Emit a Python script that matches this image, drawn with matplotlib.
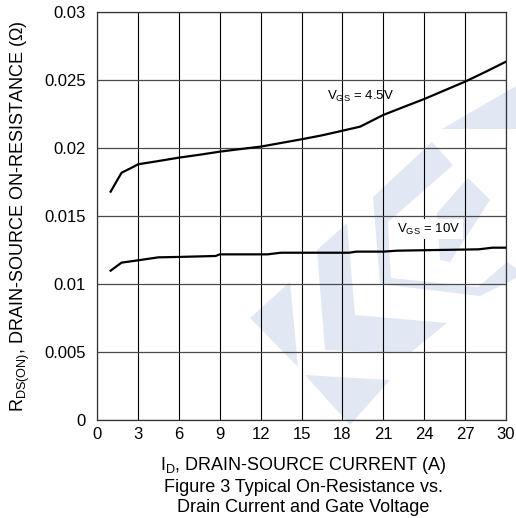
import matplotlib
matplotlib.use("Agg")
import matplotlib.pyplot as plt
from matplotlib.patches import Polygon

plt.rcParams['font.family'] = ['Liberation Sans', 'DejaVu Sans']
plt.rcParams['mathtext.default'] = 'regular'

# ---- data ----
id_vgs45 = [1.0, 1.8, 2.7, 3, 4.5, 6, 7.5, 9, 10.5, 12, 13.5, 15, 16.5, 18, 19.3,
            21, 22.5, 24, 25.5, 27, 28.5, 30]
r_vgs45 = [0.01679, 0.01818, 0.01863, 0.0188, 0.01904, 0.01929, 0.0195, 0.01973,
           0.01992, 0.0201, 0.02037, 0.02064, 0.02093, 0.02127, 0.02157,
           0.02243, 0.02302, 0.0236, 0.02424, 0.02488, 0.0256, 0.02635]

id_vgs10 = [1.0, 1.8, 3, 4.5, 6, 8.7, 9, 12.5, 13.5, 18.5, 19, 21, 22, 28, 29, 30]
r_vgs10 = [0.01098, 0.01157, 0.01174, 0.01196, 0.01199, 0.01206, 0.01218, 0.01218,
           0.0123, 0.0123, 0.01238, 0.01238, 0.01245, 0.01255, 0.01267, 0.01267]

x_ticks = [0, 3, 6, 9, 12, 15, 18, 21, 24, 27, 30]
y_ticks = [0, 0.005, 0.01, 0.015, 0.02, 0.025, 0.03]
y_tick_labels = ['0', '0.005', '0.01', '0.015', '0.02', '0.025', '0.03']

W, H = 516, 518
fig = plt.figure(figsize=(W / 100, H / 100), dpi=100)
ax_l, ax_r, ax_t, ax_b = 97, 506, 12, 420
ax = fig.add_axes([ax_l / W, 1 - ax_b / H, (ax_r - ax_l) / W, (ax_b - ax_t) / H])

# faint watermark logo (decoration), figure pixel coords
wm = [
    [(442, 129), (516, 86), (516, 129)],
    [(373, 197), (432, 142), (453, 165), (388, 222)],
    [(373, 197), (388, 222), (391, 280), (380, 284)],
    [(380, 284), (391, 278), (478, 287), (507, 262), (516, 268), (516, 278), (480, 296)],
    [(437, 213), (468, 178), (490, 200), (450, 262), (440, 260)],
    [(317, 250), (347, 223), (355, 315), (447, 323), (410, 353), (325, 350)],
    [(250, 318), (290, 282), (298, 367)],
    [(305, 375), (390, 380), (350, 425)],
]
for pts in wm:
    poly = Polygon([(x / W, 1 - y / H) for x, y in pts], closed=True,
                   transform=fig.transFigure, facecolor='#e1e8f4', edgecolor='none',
                   zorder=0.2, clip_on=False)
    ax.add_patch(poly)

ax.plot(id_vgs45, r_vgs45, color='black', lw=1.6, zorder=3)
ax.plot(id_vgs10, r_vgs10, color='black', lw=1.6, zorder=3)

ax.set_xlim(0, 30)
ax.set_ylim(0, 0.03)
ax.set_xticks(x_ticks)
ax.set_yticks(y_ticks)
ax.set_yticklabels(y_tick_labels)
ax.tick_params(length=0, labelsize=12)
ax.tick_params(axis='x', pad=5)
ax.tick_params(axis='y', pad=8)
ax.set_axisbelow(True)
ax.xaxis.grid(True, color='black', lw=0.8)
ax.yaxis.grid(True, color='#4a4a4a', lw=0.9)
for s in ax.spines.values():
    s.set_color('#333333')
    s.set_linewidth(0.9)

ax.text(16.9, 0.02377, 'V$_{GS}$ = 4.5V', fontsize=9.5, va='center', ha='left', zorder=4)
ax.text(22.0, 0.01404, 'V$_{GS}$ = 10V', fontsize=9.5, va='center', ha='left', zorder=4,
        bbox=dict(facecolor='white', edgecolor='none', pad=2))

span = ax_b - ax_t
ax.set_ylabel('R$_{DS(ON)}$, DRAIN-SOURCE ON-RESISTANCE (Ω)', fontsize=13,
              ha='center', va='center')
ax.yaxis.set_label_coords((20 - ax_l) / (ax_r - ax_l), 0.5)
ax.set_xlabel('I$_{D}$, DRAIN-SOURCE CURRENT (A)', fontsize=13, ha='center', va='center')
ax.xaxis.set_label_coords(0.505, (ax_b - 465) / span)

fig.text(303 / W, 1 - 487 / H, 'Figure 3 Typical On-Resistance vs.', ha='center',
         va='center', fontsize=13)
fig.text(303 / W, 1 - 507 / H, 'Drain Current and Gate Voltage', ha='center',
         va='center', fontsize=13)

fig.savefig('out.png', dpi=100, facecolor='white')
